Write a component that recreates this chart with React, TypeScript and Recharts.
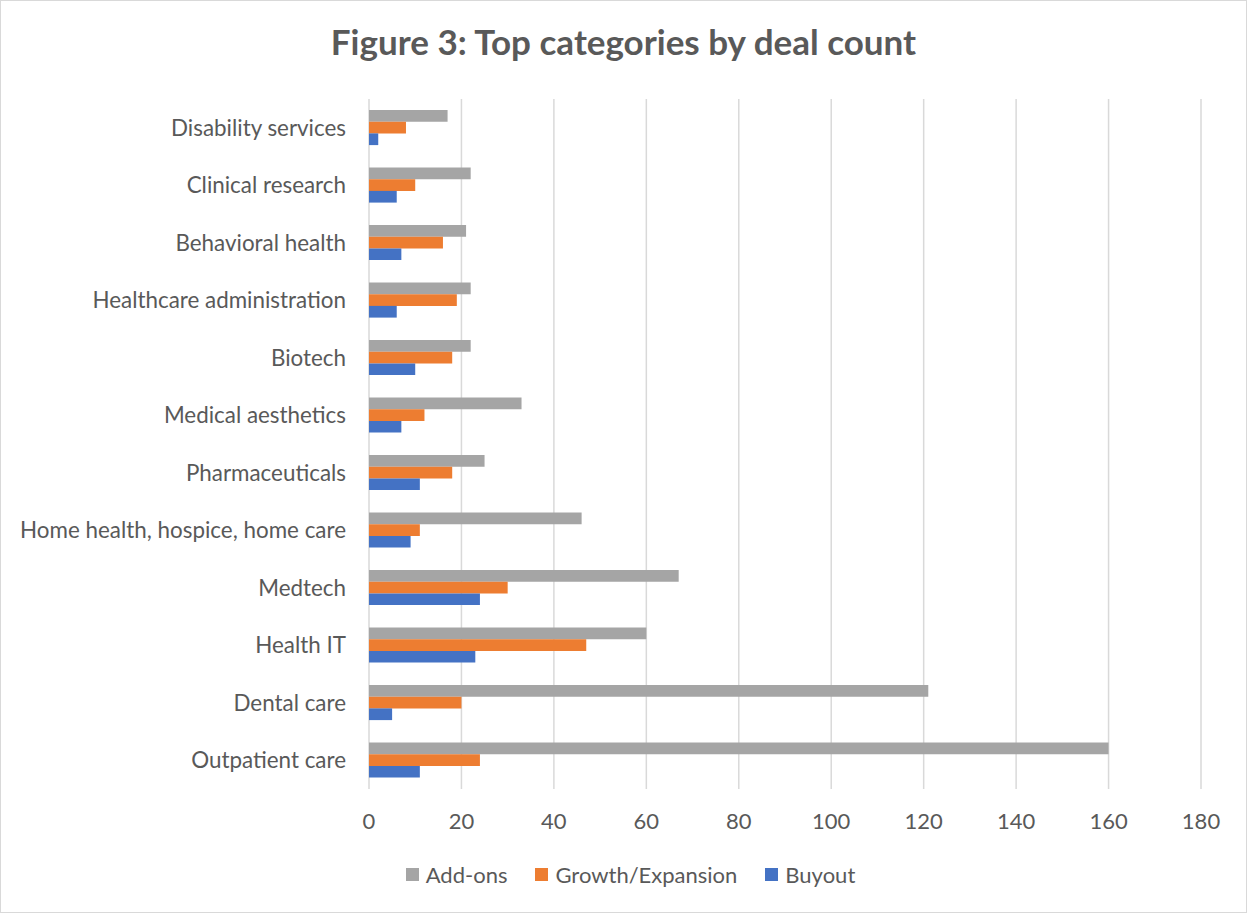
import React from "react";
import { Bar, BarChart, CartesianGrid, Legend, XAxis, YAxis } from "recharts";

const categories = [
  "Disability services",
  "Clinical research",
  "Behavioral health",
  "Healthcare administration",
  "Biotech",
  "Medical aesthetics",
  "Pharmaceuticals",
  "Home health, hospice, home care",
  "Medtech",
  "Health IT",
  "Dental care",
  "Outpatient care",
];
const addOns = [17, 22, 21, 22, 22, 33, 25, 46, 67, 60, 121, 160];
const growth = [8, 10, 16, 19, 18, 12, 18, 11, 30, 47, 20, 24];
const buyout = [2, 6, 7, 6, 10, 7, 11, 9, 24, 23, 5, 11];
const xTicks = [0, 20, 40, 60, 80, 100, 120, 140, 160, 180];

const series = [
  { key: "addOns", name: "Add-ons", color: "#A5A5A5" },
  { key: "growth", name: "Growth/Expansion", color: "#ED7D31" },
  { key: "buyout", name: "Buyout", color: "#4472C4" },
];

const rows = categories.map((name, i) => ({
  name,
  addOns: addOns[i],
  growth: growth[i],
  buyout: buyout[i],
}));

const textColor = "#595959";
const font = "Lato, 'Open Sans', sans-serif";

function LegendRow() {
  return (
    <div style={{ display: "flex", justifyContent: "center", alignItems: "center", gap: 28, paddingLeft: 59 }}>
      {series.map((s) => (
        <div key={s.key} style={{ display: "flex", alignItems: "center" }}>
          <span style={{ width: 13, height: 13, background: s.color, marginRight: 7, display: "inline-block" }} />
          <span style={{ fontSize: 22, color: textColor, fontFamily: font }}>{s.name}</span>
        </div>
      ))}
    </div>
  );
}

export default function App() {
  return (
    <div
      style={{
        position: "absolute",
        left: 0,
        top: 0,
        width: 1245,
        height: 911,
        border: "1px solid #d9d9d9",
        background: "#fff",
        fontFamily: font,
      }}
    >
      <div
        style={{
          position: "absolute",
          top: 19,
          left: 0,
          width: "100%",
          textAlign: "center",
          fontSize: 35,
          fontWeight: 700,
          color: textColor,
        }}
      >
        Figure 3: Top categories by deal count
      </div>
      <BarChart
        width={1245}
        height={911}
        layout="vertical"
        data={rows}
        margin={{ top: 98, right: 45, bottom: 21, left: 0 }}
        barGap={0}
      >
        <CartesianGrid horizontal={false} stroke="#d9d9d9" strokeWidth={1.5} />
        <XAxis
          type="number"
          domain={[0, 180]}
          ticks={xTicks}
          axisLine={false}
          tickLine={false}
          tickSize={0}
          tickMargin={24}
          height={72}
          tick={{ fill: textColor, fontSize: 22, fontFamily: font }}
        />
        <YAxis
          type="category"
          dataKey="name"
          width={368}
          axisLine={false}
          tickLine={false}
          tickSize={0}
          tickMargin={23}
          interval={0}
          tick={{ fill: textColor, fontSize: 22.4, fontFamily: font }}
        />
        <Legend verticalAlign="bottom" height={30} content={() => <LegendRow />} />
        {series.map((s) => (
          <Bar key={s.key} dataKey={s.key} name={s.name} fill={s.color} barSize={11.7} isAnimationActive={false} />
        ))}
      </BarChart>
    </div>
  );
}
